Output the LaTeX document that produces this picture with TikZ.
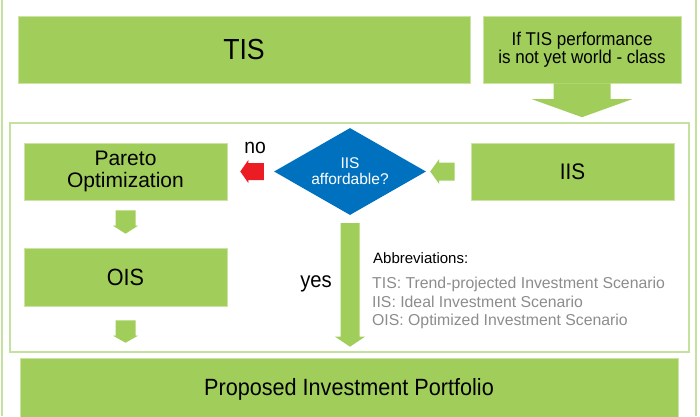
\documentclass[tikz,border=0pt]{standalone}
\usepackage{fontspec}
\setmainfont{Liberation Sans}
\newfontfamily\narrowfont{Liberation Sans}[FakeStretch=0.92]
\usetikzlibrary{shapes.geometric, arrows.meta, positioning, calc}

\definecolor{boxgreen}{HTML}{A1CE5B}
\definecolor{framegreen}{HTML}{C4E1A0}
\definecolor{askblue}{HTML}{0071BF}
\definecolor{nored}{HTML}{EC1C24}
\definecolor{notegray}{HTML}{8C8C8C}

\newcommand{\fsz}[2]{\fontsize{#1}{#2}\selectfont}
% block arrow: [colour]{from}{to}{half shaft}{half head}{head length}
\newcommand{\blockarrow}[6][boxgreen]{%
  \coordinate (ba-s) at (#2);
  \coordinate (ba-e) at (#3);
  \coordinate (ba-h) at ($(ba-e)!#6!(ba-s)$);
  \fill[#1] ($(ba-s)!#4!90:(ba-e)$) -- ($(ba-h)!#4!90:(ba-e)$) -- ($(ba-h)!#5!90:(ba-e)$)
    -- (ba-e) -- ($(ba-h)!#5!-90:(ba-e)$) -- ($(ba-h)!#4!-90:(ba-e)$) -- ($(ba-s)!#4!-90:(ba-e)$) -- cycle;}

\begin{document}
\begin{tikzpicture}[x=1pt, y=-1pt,
    box/.style={fill=boxgreen, draw=boxgreen!55!white, line width=0.6pt, inner sep=0pt, align=center},
    panel/.style={draw=framegreen, line width=1.6pt, inner sep=0pt},
    ask/.style={diamond, aspect=1.75, fill=askblue, text=white, inner sep=0pt, align=center},
    lbl/.style={inner sep=0pt},
    note/.style={inner sep=0pt, align=left, text=notegray}
]
    \useasboundingbox (0,0) rectangle (700,416);

    % outer frame
    \draw[framegreen, line width=1.6pt] (1.8,0) -- (1.8,416) (696,0) -- (696,416);

    % top row
    \node[box, minimum width=452, minimum height=67, font=\narrowfont\fsz{29}{32}] (tis) at (244,49.5) {TIS};
    \node[box, minimum width=198, minimum height=67, font=\narrowfont\fsz{18.5}{18}] (cond) at (582,49.5) {If TIS performance\\is not yet world - class};

    % inner panel
    \node[panel, minimum width=679.5, minimum height=229] (panel) at (349.5,237.5) {};

    \node[box, minimum width=203, minimum height=57, font=\fsz{21}{22.5}] (pareto) at (125.5,171.5) {Pareto\\Optimization};
    \node[box, minimum width=203, minimum height=58, font=\narrowfont\fsz{23.5}{26}] (ois) at (125.5,277) {OIS};
    \node[ask, minimum width=152, minimum height=87, font=\fsz{15.5}{16}] (afford) at (350,171.5) {IIS\\affordable?};
    \node[box, minimum width=203, minimum height=57, font=\narrowfont\fsz{22.5}{25}] (iis) at (572.5,171.5) {IIS};

    % bottom
    \node[box, minimum width=658, minimum height=62, font=\narrowfont\fsz{23.5}{26}] (portfolio) at (349,389) {Proposed Investment Portfolio};

    % labels
    \node[lbl, font=\narrowfont\fsz{21}{22}] (no) at (255,147.5) {no};
    \node[lbl, font=\narrowfont\fsz{22}{24}] (yes) at (316,283.5) {yes};
    \node[lbl, anchor=base west, font=\fsz{15}{18}] (abbrhead) at (373,263) {Abbreviations:};
    \node[note, anchor=north west, font=\fsz{15.8}{18.5}] (abbrlist) at (372,277)
        {TIS: Trend-projected Investment Scenario\\IIS: Ideal Investment Scenario\\OIS: Optimized Investment Scenario};

    % arrows
    \blockarrow{cond.south}{$(cond.south |- panel.north)+(0,-5)$}{28.5pt}{50pt}{18pt}
    \blockarrow[nored]{$(afford.west)!10pt!(pareto.east)$}{$(pareto.east)!13pt!(afford.west)$}{8.5pt}{11.5pt}{8pt}
    \blockarrow{$(iis.west)!16pt!(afford.east)$}{$(afford.east)!4pt!(iis.west)$}{9pt}{12.5pt}{9pt}
    \blockarrow{$(pareto.south)!10pt!(ois.north)$}{$(ois.north)!14pt!(pareto.south)$}{10pt}{12.5pt}{8pt}
    \blockarrow{$(ois.south)+(0,14)$}{$(ois.south |- portfolio.north)+(0,-15)$}{10pt}{12.5pt}{7pt}
    \blockarrow{$(afford.south)+(0,8)$}{$(afford.south |- portfolio.north)+(0,-11)$}{9.5pt}{15pt}{10pt}
\end{tikzpicture}
\end{document}
